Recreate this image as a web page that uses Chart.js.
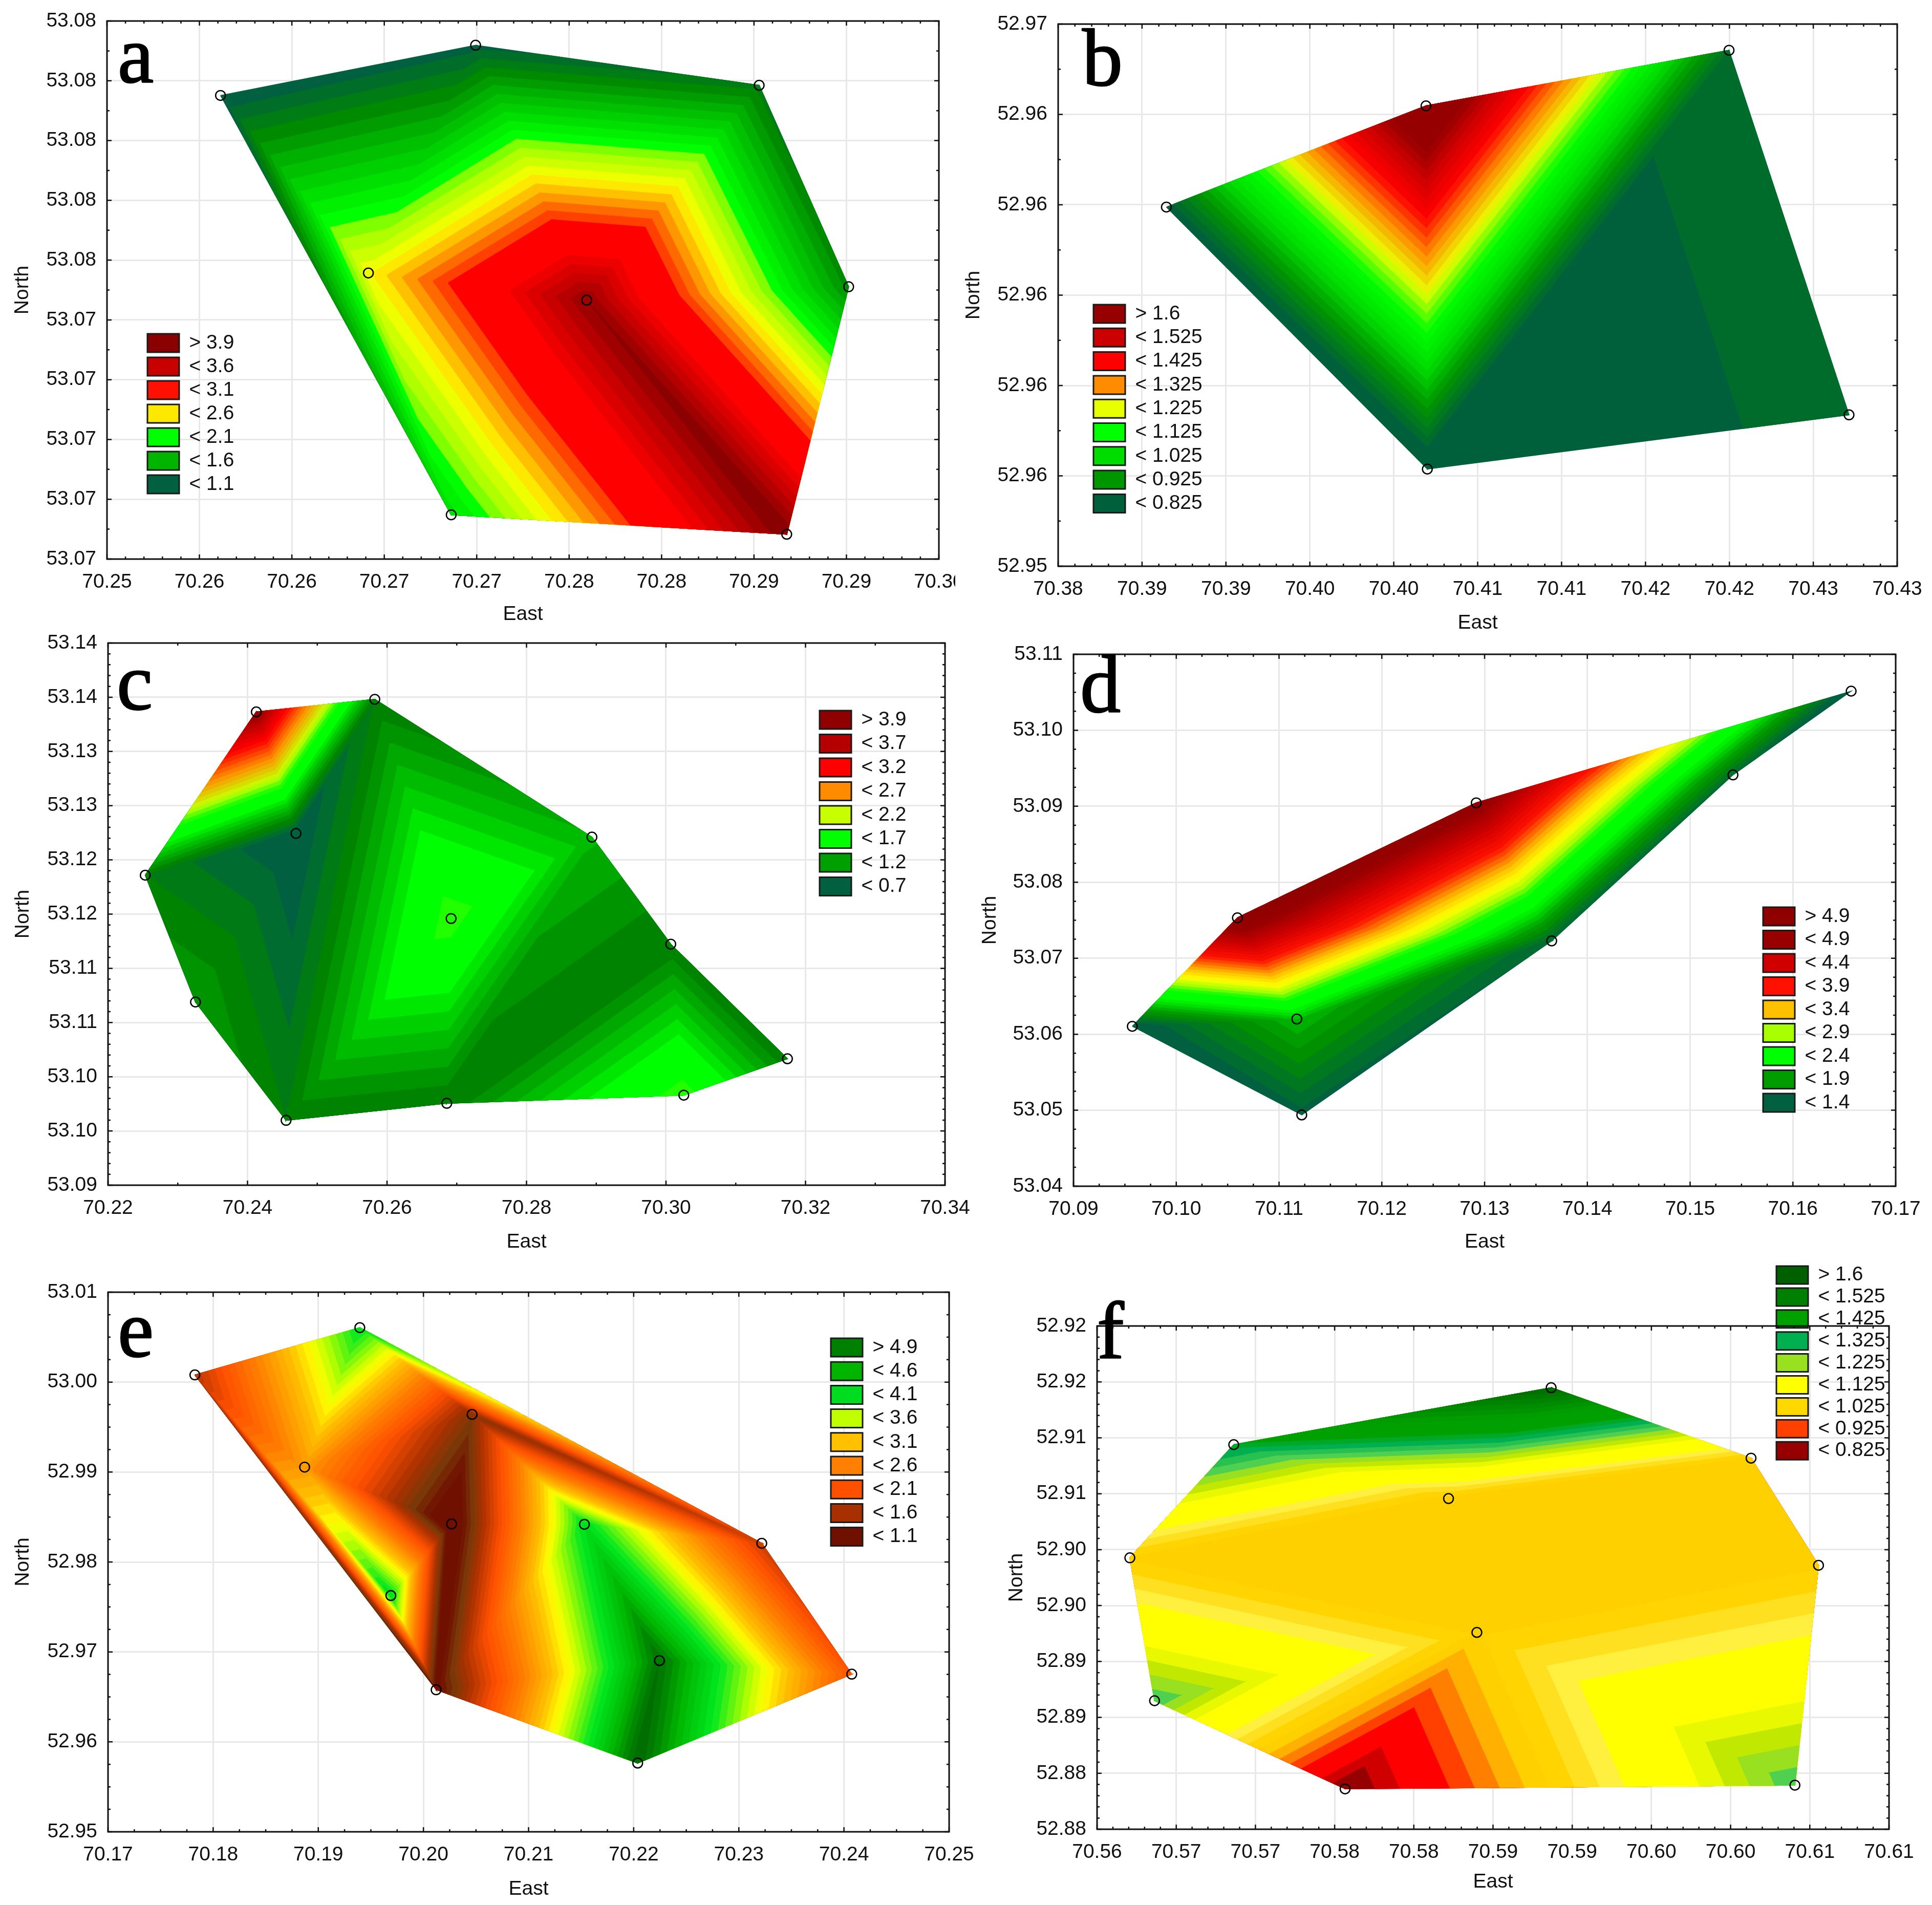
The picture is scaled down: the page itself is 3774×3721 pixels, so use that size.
<!DOCTYPE html>
<html><head><meta charset="utf-8">
<style>html,body{margin:0;padding:0;background:#fff}canvas{position:absolute;display:block}</style>
<script src="https://cdn.jsdelivr.net/npm/chart.js@4/dist/chart.umd.min.js"></script>
</head><body>
<script>
// ---------- panel a ----------
const eastA=[70.25614,70.26994,70.28528,70.29012,70.28677,70.26862,70.26414,70.27595];
const northA=[53.08151,53.08319,53.08185,53.07511,53.06683,53.06748,53.07557,53.07466];
const valueA=[1.0,1.05,1.25,1.35,4.0,1.85,2.48,3.9];
const trianglesA=[[0,1,6],[1,6,7],[1,2,7],[2,3,7],[3,4,7],[4,5,7],[5,6,7],[0,6,5]];
const xLabelsA=["70.25","70.26","70.26","70.27","70.27","70.28","70.28","70.29","70.29","70.30"];
const yLabelsA=["53.07","53.07","53.07","53.07","53.07","53.08","53.08","53.08","53.08","53.08"];
const legendA=["> 3.9","< 3.6","< 3.1","< 2.6","< 2.1","< 1.6","< 1.1"];
const swatchA=["#8b0000","#c80000","#ff1000","#ffe800","#00ff00","#00b400","#006040"];
const rampValuesA=[1.05,1.15,1.25,1.35,1.45,1.55,1.65,1.75,1.85,1.95,2.05,2.15,2.25,2.35,2.45,2.55,2.65,2.75,2.85,2.95,3.05,3.35,3.65,3.95];
const rampColorsA=["#006040","#006e28","#007c14","#008a00","#009c00","#00b000","#00c000","#00d000","#00e000","#00f000","#00ff00","#7fff00","#afff00","#ccff00","#eeff00","#ffe800","#ffc000","#ff9800","#ff6a00","#ff4000","#ff0000","#ff0000","#c80000","#8b0000"];
// ---------- panel b ----------
const eastB=[70.38645,70.40192,70.41998,70.42713,70.402];
const northB=[52.96195,52.96419,52.96542,52.95735,52.95615];
const valueB=[0.8,1.72,0.845,0.845,0.765];
const trianglesB=[[0,1,4],[1,2,4],[2,3,4]];
const xLabelsB=["70.38","70.39","70.39","70.40","70.40","70.41","70.41","70.42","70.42","70.43","70.43"];
const yLabelsB=["52.95","52.96","52.96","52.96","52.96","52.96","52.97"];
const legendB=["> 1.6","< 1.525","< 1.425","< 1.325","< 1.225","< 1.125","< 1.025","< 0.925","< 0.825"];
const swatchB=["#960000","#cc0000","#ff0000","#ff8c00","#e8ff00","#00ff00","#00dc00","#009600","#00603c"];
const rampValuesB=[0.8125,0.8375,0.925,1.025,1.125,1.225,1.325,1.425,1.525,1.6];
const rampColorsB=["#00603c","#006c2c","#009600","#00dc00","#00ff00","#e8ff00","#ff8c00","#ff0000","#cc0000","#960000"];
// ---------- panel c ----------
const eastC=[70.22534,70.24126,70.25825,70.28938,70.30068,70.31741,70.30255,70.26857,70.24553,70.23254,70.24695,70.26919];
const northC=[53.11859,53.13365,53.13481,53.1221,53.11223,53.10166,53.0983,53.09755,53.09598,53.10689,53.12244,53.11459];
const valueC=[1.0,3.95,1.0,1.32,1.0,1.0,2.0,1.0,1.0,1.2,0.68,2.0];
const trianglesC=[[0,1,10],[1,2,10],[2,8,10],[8,9,10],[0,9,10],[2,11,8],[2,3,11],[3,7,11],[7,8,11],[3,4,7],[4,6,7],[4,5,6]];
const xLabelsC=["70.22","70.24","70.26","70.28","70.30","70.32","70.34"];
const yLabelsC=["53.09","53.10","53.10","53.11","53.11","53.12","53.12","53.13","53.13","53.14","53.14"];
const legendC=["> 3.9","< 3.7","< 3.2","< 2.7","< 2.2","< 1.7","< 1.2","< 0.7"];
const swatchC=["#8f0000","#b40000","#ff0000","#ff8c00","#c8ff00","#00ff00","#00a000","#006040"];
const rampValuesC=[0.75,0.85,0.95,1.05,1.15,1.25,1.35,1.45,1.55,1.65,1.9,2.2,2.7,3.2,3.7,3.9];
const rampColorsC=["#006040","#006c30","#007a14","#008400","#009400","#00a800","#00bc00","#00d000","#00e800","#00ff00","#00ff00","#c8ff00","#ff8c00","#ff0000","#b40000","#8f0000"];
// ---------- panel d ----------
const eastD=[70.09572,70.10595,70.12919,70.16567,70.15417,70.13653,70.11221,70.11173];
const northD=[53.06104,53.07532,53.09045,53.10515,53.09413,53.07228,53.04938,53.062];
const valueD=[1.25,5.3,5.1,1.2,1.45,1.4,1.35,2.0];
const trianglesD=[[0,1,7],[1,5,7],[1,2,5],[2,4,5],[2,3,4],[0,7,6],[6,7,5]];
const xLabelsD=["70.09","70.10","70.11","70.12","70.13","70.14","70.15","70.16","70.17"];
const yLabelsD=["53.04","53.05","53.06","53.07","53.08","53.09","53.10","53.11"];
const legendD=["> 4.9","< 4.9","< 4.4","< 3.9","< 3.4","< 2.9","< 2.4","< 1.9","< 1.4"];
const swatchD=["#900000","#980000","#d00000","#ff1000","#ffc000","#a8ff00","#00ff00","#009c00","#006040"];
const rampValuesD=[1.35,1.45,1.55,1.65,1.75,1.85,1.95,2.05,2.15,2.25,2.35,2.6,2.85,3.1,3.4,3.9,4.4,4.9,5.3];
const rampColorsD=["#006040","#006c30","#007820","#008410","#009000","#009c00","#00b000","#00c800","#00e000","#00f000","#00ff00","#00ff00","#a8ff00","#ffff00","#ffc000","#ff1000","#d00000","#980000","#900000"];
// ---------- panel e ----------
const eastE=[70.17826,70.19395,70.20463,70.1887,70.20268,70.21531,70.1969,70.20121,70.22245,70.22038,70.23218,70.24074];
const northE=[53.0008,53.00606,52.99641,52.99055,52.98423,52.98419,52.97627,52.96579,52.96904,52.95764,52.98208,52.96753];
const valueE=[1.7,4.15,1.4,2.8,0.8,4.2,4.2,1.0,5.0,5.1,1.8,2.15];
const trianglesE=[[0,1,3],[1,2,3],[2,3,4],[0,3,6],[0,6,7],[3,4,6],[4,6,7],[1,2,10],[2,5,10],[2,4,5],[4,5,7],[5,7,8],[7,8,9],[5,8,10],[8,9,11],[8,10,11]];
const xLabelsE=["70.17","70.18","70.19","70.20","70.21","70.22","70.23","70.24","70.25"];
const yLabelsE=["52.95","52.96","52.97","52.98","52.99","53.00","53.01"];
const legendE=["> 4.9","< 4.6","< 4.1","< 3.6","< 3.1","< 2.6","< 2.1","< 1.6","< 1.1"];
const swatchE=["#008000","#00b400","#00dc20","#c0ff00","#ffc000","#ff8000","#ff5000","#a83000","#701000"];
const rampValuesE=[1.1,1.35,1.6,2.1,2.6,3.1,3.4,3.6,4.1,4.6,4.9,5.1];
const rampColorsE=["#701000","#7a3808","#a83000","#ff5000","#ff8000","#ffc000","#ffff00","#c0ff00","#00e820","#00b400","#008000","#006800"];
// ---------- panel f ----------
const eastF=[70.56207,70.56863,70.58867,70.60129,70.60555,70.60406,70.57566,70.56363,70.58219,70.58398];
const northF=[52.89927,52.90939,52.91448,52.90818,52.8986,52.87894,52.87861,52.88649,52.90457,52.8926];
const valueF=[1.02,1.34,1.58,1.02,1.02,1.27,0.82,1.27,1.01,1.02];
const trianglesF=[[0,1,8],[1,2,8],[2,3,8],[3,4,8],[4,8,9],[0,8,9],[0,7,9],[6,7,9],[5,6,9],[4,5,9]];
const xLabelsF=["70.56","70.57","70.57","70.58","70.58","70.59","70.59","70.60","70.60","70.61","70.61"];
const yLabelsF=["52.88","52.88","52.89","52.89","52.90","52.90","52.91","52.91","52.92","52.92"];
const legendF=["> 1.6","< 1.525","< 1.425","< 1.325","< 1.225","< 1.125","< 1.025","< 0.925","< 0.825"];
const swatchF=["#006000","#008000","#00a000","#00b050","#98e020","#ffff00","#ffd800","#ff4000","#960000"];
const rampValuesF=[0.8375,0.8625,0.8875,0.9125,0.9375,0.9625,0.9875,1.0125,1.0375,1.0625,1.0875,1.1125,1.1625,1.1875,1.2125,1.2375,1.2625,1.3125,1.3625,1.425,1.525,1.6];
const rampColorsF=["#960000","#d00000","#ff0000","#ff0000","#ff4000","#ff8000","#ffb000","#ffd000","#ffd400","#ffe020","#fff040","#ffff00","#ffff00","#e8f800","#c0e800","#98e020","#50d050","#00b050","#00a000","#00a000","#008000","#006000"];

const panels=[
 {letter:"a",east:eastA,north:northA,value:valueA,tri:trianglesA,xl:xLabelsA,yl:yLabelsA,leg:legendA,sw:swatchA,rv:rampValuesA,rc:rampColorsA,
  xMin:70.25,xStep:.005,yMin:53.066,yStep:.002,low:1.1,step:.1,xSub:5,ySub:2,
  box:{x:0,y:0,w:1866,h:1225},frame:{L:209,R:1834,T:41,B:1092},titleX:44,titleY:1200,legX:288,legY:652,pitch:46,boxH:36,letX:230,letY:160},
 {letter:"b",east:eastB,north:northB,value:valueB,tri:trianglesB,xl:xLabelsB,yl:yLabelsB,leg:legendB,sw:swatchB,rv:rampValuesB,rc:rampColorsB,
  xMin:70.38,xStep:.005,yMin:52.954,yStep:.002,low:.825,step:.025,xSub:5,ySub:2,
  box:{x:1866,y:0,w:1908,h:1245},frame:{L:2067,R:3706,T:47,B:1106},titleX:1902,titleY:1217,legX:2136,legY:595,pitch:46.3,boxH:36,letX:2114,letY:166},
 {letter:"c",east:eastC,north:northC,value:valueC,tri:trianglesC,xl:xLabelsC,yl:yLabelsC,leg:legendC,sw:swatchC,rv:rampValuesC,rc:rampColorsC,
  xMin:70.22,xStep:.02,yMin:53.09,yStep:.005,low:.7,step:.1,xSub:2,ySub:5,
  box:{x:0,y:1225,w:1900,h:1230},frame:{L:211,R:1846,T:1256,B:2315},titleX:45,titleY:2426,legX:1601,legY:1388,pitch:46.5,boxH:36,letX:228,letY:1385},
 {letter:"d",east:eastD,north:northD,value:valueD,tri:trianglesD,xl:xLabelsD,yl:yLabelsD,leg:legendD,sw:swatchD,rv:rampValuesD,rc:rampColorsD,
  xMin:70.09,xStep:.01,yMin:53.04,yStep:.01,low:1.4,step:.1,xSub:4,ySub:4,
  box:{x:1900,y:1245,w:1874,h:1210},frame:{L:2097,R:3703,T:1278,B:2317},titleX:1934,titleY:2426,legX:3444,legY:1772,pitch:45.5,boxH:36,letX:2110,letY:1390},
 {letter:"e",east:eastE,north:northE,value:valueE,tri:trianglesE,xl:xLabelsE,yl:yLabelsE,leg:legendE,sw:swatchE,rv:rampValuesE,rc:rampColorsE,
  xMin:70.17,xStep:.01,yMin:52.95,yStep:.01,low:1.1,step:.1,xSub:4,ySub:4,
  box:{x:0,y:2455,w:1902,h:1266},frame:{L:211,R:1854,T:2524,B:3578},titleX:45,titleY:3690,legX:1623,legY:2614,pitch:46.2,boxH:36,letX:230,letY:2649},
 {letter:"f",east:eastF,north:northF,value:valueF,tri:trianglesF,xl:xLabelsF,yl:yLabelsF,leg:legendF,sw:swatchF,rv:rampValuesF,rc:rampColorsF,
  xMin:70.56,xStep:.005,yMin:52.875,yStep:.005,low:.825,step:.025,xSub:5,ySub:5,
  box:{x:1902,y:2455,w:1872,h:1266},frame:{L:2143,R:3690,T:2590,B:3573},titleX:1986,titleY:3676,legX:3470,legY:2473,pitch:42.9,boxH:35,letX:2143,letY:2653}
];

function hexRgb(h){return [1,3,5].map(i=>parseInt(h.substr(i,2),16));}
function colorAt(v,rv,rc){
  if(v<=rv[0])return rc[0];
  for(let i=1;i<rv.length;i++){
    if(v<=rv[i]){
      const t=(v-rv[i-1])/(rv[i]-rv[i-1]),a=hexRgb(rc[i-1]),b=hexRgb(rc[i]);
      return "rgb("+a.map((c,k)=>Math.round(c+(b[k]-c)*t)).join(",")+")";
    }
  }
  return rc[rc.length-1];
}
function clipAbove(tri,level){
  const out=[];
  tri.forEach((a,i)=>{
    const b=tri[(i+1)%tri.length];
    if(a.z>=level)out.push(a);
    if((a.z>=level)!==(b.z>=level)){
      const t=(level-a.z)/(b.z-a.z);
      out.push({x:a.x+t*(b.x-a.x),y:a.y+t*(b.y-a.y),z:level});
    }
  });
  return out;
}
function bandData(p,level){
  const data=[];
  p.tri.forEach(t=>{
    const poly=clipAbove(t.map(i=>({x:p.east[i],y:p.north[i],z:p.value[i]})),level);
    if(poly.length>=3){
      poly.forEach(q=>data.push({x:q.x,y:q.y}));
      data.push({x:poly[0].x,y:poly[0].y});
      data.push({x:null,y:null});
    }
  });
  return data;
}
function buildDatasets(p){
  const top=Math.max(...p.value);
  const bands=[{level:-Infinity,color:colorAt(p.low-p.step/2,p.rv,p.rc)}];
  for(let k=0;p.low+k*p.step<top;k++){
    const L=p.low+k*p.step;
    bands.push({level:L,color:colorAt(L+p.step/2,p.rv,p.rc)});
  }
  const sets=[{label:"samples",data:p.east.map((e,i)=>({x:e,y:p.north[i]})),showLine:false,
    pointRadius:9.5,pointBorderWidth:2.5,pointBorderColor:"#000",pointBackgroundColor:"rgba(0,0,0,0)"}];
  bands.reverse().forEach(b=>sets.push({label:"band",data:bandData(p,b.level),showLine:true,fill:"shape",
    pointRadius:0,borderWidth:1.5,borderColor:b.color,backgroundColor:b.color,tension:0,spanGaps:false}));
  return sets;
}
const framePlugin={id:"frame",
  afterDatasetsDraw(chart,args,o){
    const {ctx,chartArea:a,scales:{x,y}}=chart;
    ctx.save();
    ctx.strokeStyle="#111";ctx.lineWidth=2.5;
    const n=(o.xl-1),m=(o.yl-1);
    for(let i=0;i<=n;i++){for(let s=0;s<(i===n?1:o.xSub);s++){
      const px=x.getPixelForValue(o.xMin+(i+s/o.xSub)*o.xStep),len=s===0?9:5;
      ctx.beginPath();ctx.moveTo(px,a.bottom);ctx.lineTo(px,a.bottom-len);ctx.moveTo(px,a.top);ctx.lineTo(px,a.top+len);ctx.stroke();
    }}
    for(let i=0;i<=m;i++){for(let s=0;s<(i===m?1:o.ySub);s++){
      const py=y.getPixelForValue(o.yMin+(i+s/o.ySub)*o.yStep),len=s===0?9:5;
      ctx.beginPath();ctx.moveTo(a.left,py);ctx.lineTo(a.left+len,py);ctx.moveTo(a.right,py);ctx.lineTo(a.right-len,py);ctx.stroke();
    }}
    ctx.lineWidth=3;ctx.strokeRect(a.left,a.top,a.right-a.left,a.bottom-a.top);
    ctx.restore();
  },
  afterDraw(chart,args,o){
    const c=chart.ctx;c.save();c.fillStyle="#000";c.strokeStyle="#000";c.lineWidth=2.5;c.lineJoin="round";
    c.font="158px 'Liberation Serif'";c.textAlign="left";c.textBaseline="alphabetic";
    c.strokeText(o.letter,o.letX,o.letY);c.fillText(o.letter,o.letX,o.letY);c.restore();
  },
  afterLayout(chart,args,o){
    const l=chart.legend,w=l.width,h=l.height,pad=o.pitch-39;
    l.left=o.legX-pad;l.right=l.left+w;l.top=o.legY-pad-(39-o.boxH)/2;l.bottom=l.top+h;
  }
};
Chart.defaults.font.family="'Liberation Sans'";
Chart.defaults.font.size=39;
Chart.defaults.color="#111";
panels.forEach(p=>{
  const cv=document.createElement("canvas"),b=p.box,f=p.frame;
  cv.width=b.w;cv.height=b.h;cv.style.left=b.x+"px";cv.style.top=b.y+"px";cv.style.width=b.w+"px";cv.style.height=b.h+"px";
  document.body.appendChild(cv);
  const xh=b.y+b.h-f.B,yw=f.L-b.x;
  new Chart(cv,{type:"scatter",data:{datasets:buildDatasets(p)},plugins:[framePlugin],
   options:{responsive:false,animation:false,events:[],
    layout:{padding:{left:0,bottom:0,top:f.T-b.y,right:b.x+b.w-f.R}},
    plugins:{tooltip:{enabled:false},title:{display:false},
      legend:{display:true,position:"chartArea",align:"start",onClick:null,
        labels:{boxWidth:62,boxHeight:p.boxH,padding:p.pitch-39,color:"#111",font:{size:39,family:"'Liberation Sans'"},
          generateLabels:()=>p.leg.map((t,i)=>({text:t,fillStyle:p.sw[i],strokeStyle:"#1a1a1a",lineWidth:3,hidden:false,fontColor:"#111"}))}},
      frame:{xl:p.xl.length,yl:p.yl.length,xMin:p.xMin,xStep:p.xStep,yMin:p.yMin,yStep:p.yStep,xSub:p.xSub,ySub:p.ySub,
        letter:p.letter,letX:p.letX-b.x,letY:p.letY-b.y,legX:p.legX-b.x,legY:p.legY-b.y,pitch:p.pitch,boxH:p.boxH}},
    scales:{
     x:{type:"linear",min:p.xMin,max:p.xMin+(p.xl.length-1)*p.xStep,
       afterBuildTicks:s=>{s.ticks=p.xl.map((_,i)=>({value:p.xMin+i*p.xStep}));},
       afterFit:s=>{s.height=xh;s.paddingLeft=0;s.paddingRight=0;},
       grid:{color:"#e8e8e8",lineWidth:3,drawTicks:false},border:{display:false},
       ticks:{padding:22,autoSkip:false,maxRotation:0,minRotation:0,color:"#111",callback:(v,i)=>p.xl[i]},
       title:{display:true,text:"East",color:"#111",padding:{top:0,bottom:b.y+b.h-p.titleY-23.4}}},
     y:{type:"linear",min:p.yMin,max:p.yMin+(p.yl.length-1)*p.yStep,
       afterBuildTicks:s=>{s.ticks=p.yl.map((_,i)=>({value:p.yMin+i*p.yStep}));},
       afterFit:s=>{s.width=yw;s.paddingTop=0;s.paddingBottom=0;},
       grid:{color:"#e8e8e8",lineWidth:3,drawTicks:false},border:{display:false},
       ticks:{padding:21,autoSkip:false,color:"#111",callback:(v,i)=>p.yl[i]},
       title:{display:true,text:"North",color:"#111",padding:{top:p.titleX-b.x-23.4,bottom:0}}}
    }}});
});
</script>
</body></html>
